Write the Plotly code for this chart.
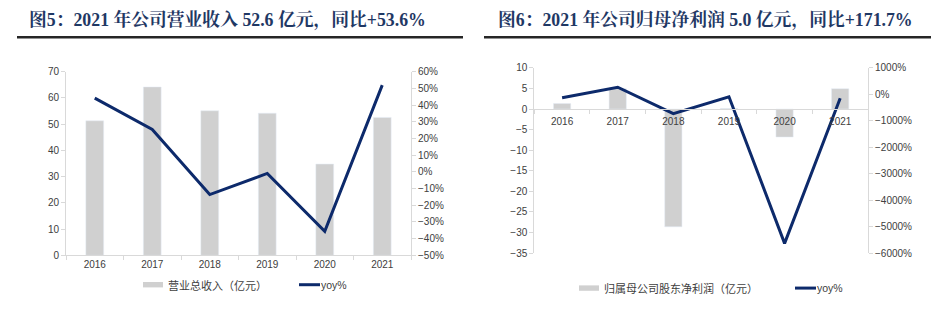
import plotly.graph_objects as go

years = ["2016", "2017", "2018", "2019", "2020", "2021"]
revenue = [51.3, 64.2, 55.1, 54.2, 34.8, 52.6]          # 营业总收入（亿元）
revenue_yoy = [44.2, 25.4, -13.6, -0.9, -35.6, 52.0]     # yoy %
net_profit = [1.33, 4.95, -28.6, 0.12, -6.8, 4.95]       # 归属母公司股东净利润（亿元）
net_profit_yoy = [-130, 270, -730, -90, -5630, -150]     # yoy %

W, H = 945, 322
BAR = "#d0d0d0"
LINE = "#0d2a6b"
AX = "#d9d9d9"
TICKFONT = dict(family="Liberation Sans Narrow, Liberation Sans, Arial", size=10, color="#404040")
TITLEFONT = dict(family="Liberation Serif, Noto Serif CJK SC, Noto Sans CJK SC", size=17.8,
                 color="#1f3864", weight="bold")
LEGFONT = dict(family="Noto Sans CJK SC", size=11, color="#404040")


def px_x(v):
    return v / W


def px_y(v):
    return (H - v) / H


fig = go.Figure()
fig.add_trace(go.Bar(x=years, y=revenue, marker_color=BAR, xaxis="x", yaxis="y",
                     name="营业总收入（亿元）", showlegend=False))
fig.add_trace(go.Scatter(x=years, y=revenue_yoy, mode="lines", line=dict(color=LINE, width=3),
                         xaxis="x", yaxis="y2", name="yoy%", showlegend=False))
fig.add_trace(go.Bar(x=years, y=net_profit, marker_color=BAR, xaxis="x2", yaxis="y3",
                     name="归属母公司股东净利润（亿元）", showlegend=False))
fig.add_trace(go.Scatter(x=years, y=net_profit_yoy, mode="lines", line=dict(color=LINE, width=3),
                         xaxis="x2", yaxis="y4", name="yoy%", showlegend=False))

left_dom = [px_x(66), px_x(411)]
left_ydom = [px_y(259), px_y(68.3)]
right_dom = [px_x(534.3), px_x(868)]
right_ydom = [px_y(256.7), px_y(64.3)]
zero_pos = right_ydom[0] + (35 / 45) * (right_ydom[1] - right_ydom[0])

common_x = dict(type="category", showline=True, linecolor=AX, linewidth=1, ticks="outside",
                tickson="boundaries", ticklen=4, tickcolor=AX, tickfont=TICKFONT,
                showgrid=False, zeroline=False, fixedrange=True)
common_y = dict(showline=True, linecolor=AX, linewidth=1, ticks="outside", ticklen=4,
                tickcolor=AX, tickfont=TICKFONT, showgrid=False, zeroline=False)

fig.update_layout(
    width=W, height=H, margin=dict(l=0, r=0, t=0, b=0),
    paper_bgcolor="white", plot_bgcolor="white", bargap=0.69, showlegend=False,
    xaxis=dict(domain=left_dom, anchor="y", range=[-0.5, 5.5], **common_x),
    yaxis=dict(domain=left_ydom, anchor="x", range=[0, 70], dtick=10, **common_y),
    yaxis2=dict(overlaying="y", side="right", anchor="x", range=[-50, 60], dtick=10,
                ticksuffix="%", **common_y),
    xaxis2=dict(domain=right_dom, anchor="free", position=zero_pos, range=[-0.5, 5.5],
                ticklabelstandoff=3, **common_x),
    yaxis3=dict(domain=right_ydom, anchor="x2", range=[-35, 10], dtick=5, **common_y),
    yaxis4=dict(overlaying="y3", side="right", anchor="x2", range=[-6000, 1000], dtick=1000,
                ticksuffix="%", **common_y),
)

# Titles
fig.add_annotation(text="图5：2021 年公司营业收入 52.6 亿元，同比+53.6%", xref="paper", yref="paper",
                   x=px_x(27), y=px_y(15), xanchor="left", yanchor="middle", showarrow=False,
                   font=TITLEFONT)
fig.add_annotation(text="图6：2021 年公司归母净利润 5.0 亿元，同比+171.7%", xref="paper", yref="paper",
                   x=px_x(496), y=px_y(15), xanchor="left", yanchor="middle", showarrow=False,
                   font=TITLEFONT)
fig.add_shape(type="line", xref="paper", yref="paper", x0=px_x(17), x1=px_x(463),
              y0=px_y(32.5), y1=px_y(32.5), line=dict(color="#262626", width=2.5))
fig.add_shape(type="line", xref="paper", yref="paper", x0=px_x(484), x1=px_x(931),
              y0=px_y(32.5), y1=px_y(32.5), line=dict(color="#262626", width=2.5))

# Legends
def legend(bx0, ly, text1, lx0):
    fig.add_shape(type="rect", xref="paper", yref="paper", x0=px_x(bx0), x1=px_x(bx0 + 20),
                  y0=px_y(ly + 2.8), y1=px_y(ly - 2.8), fillcolor=BAR, line=dict(width=0))
    fig.add_annotation(text=text1, xref="paper", yref="paper", x=px_x(bx0 + 23), y=px_y(ly),
                       xanchor="left", yanchor="middle", showarrow=False, font=LEGFONT)
    fig.add_shape(type="line", xref="paper", yref="paper", x0=px_x(lx0), x1=px_x(lx0 + 21),
                  y0=px_y(ly), y1=px_y(ly), line=dict(color=LINE, width=3))
    fig.add_annotation(text="yoy%", xref="paper", yref="paper", x=px_x(lx0 + 20), y=px_y(ly),
                       xanchor="left", yanchor="middle", showarrow=False,
                       font=dict(family="Liberation Sans Narrow, Liberation Sans", size=10.5,
                                 color="#404040"))

legend(143, 289.5, "营业总收入（亿元）", 299)
legend(579, 293, "归属母公司股东净利润（亿元）", 795)

fig.write_html("out.html")
